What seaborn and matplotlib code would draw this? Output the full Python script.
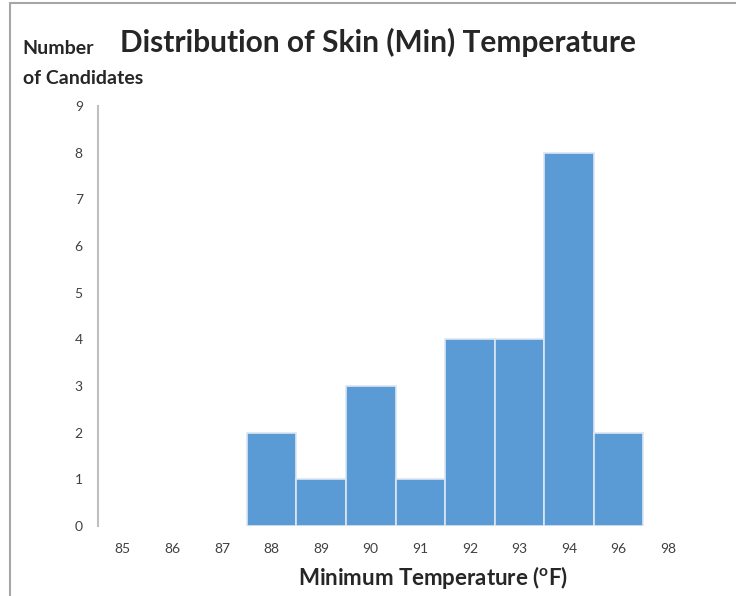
import seaborn as sns
import matplotlib.pyplot as plt
import pandas as pd

temps = ["85", "86", "87", "88", "89", "90", "91", "92", "93", "94", "96", "98"]
counts = [0, 0, 0, 2, 1, 3, 1, 4, 4, 8, 2, 0]
y_ticks = [0, 1, 2, 3, 4, 5, 6, 7, 8, 9]

df = pd.DataFrame({"Temp": temps, "Count": counts})

sns.set_style("white")
plt.rcParams['font.family'] = ['Lato', 'DejaVu Sans']

fig = plt.figure(figsize=(7.36, 5.96), dpi=100)
ax = fig.add_axes([0.1332, 0.1174, 0.8084, 0.7047])

sns.barplot(data=df, x="Temp", y="Count", order=temps, color="#5B9BD5",
            width=1.0, edgecolor="#DCE6F2", linewidth=1.2, saturation=1, ax=ax)

# empty bins should not leave an edge line on the baseline
for bar in ax.patches:
    if bar.get_height() == 0:
        bar.set_linewidth(0)

ax.set_xlim(-0.5, len(temps) - 0.5)
ax.set_ylim(0, 9)
ax.set_yticks(y_ticks)
ax.tick_params(axis="y", length=0, labelsize=10, labelcolor="#404040", pad=11)
ax.tick_params(axis="x", which="major", length=0, labelsize=10, labelcolor="#404040", pad=12)
ax.set_xticks([i - 0.5 for i in range(len(temps) + 1)], minor=True)
ax.tick_params(axis="x", which="minor", length=5, width=1, color="#BFBFBF", direction="out")

for side in ["top", "right", "bottom"]:
    ax.spines[side].set_visible(False)
ax.spines["left"].set_color("#BFBFBF")
ax.spines["left"].set_linewidth(1.5)

ax.set_xlabel("")
ax.set_ylabel("")

fig.text(0.588, 0.031, "Minimum Temperature ($^\\mathregular{o}$F)", ha="center",
         va="center", fontsize=16, fontweight="bold")
fig.text(0.514, 0.929, "Distribution of Skin (Min) Temperature", ha="center",
         va="center", fontsize=21.5, fontweight="bold")
fig.text(0.031, 0.919, "Number", ha="left", va="center", fontsize=14, fontweight="bold")
fig.text(0.031, 0.869, "of Candidates", ha="left", va="center", fontsize=14, fontweight="bold")

# frame around the chart
fig.add_artist(plt.Line2D([0.014, 0.014], [0, 0.995], color="#A6A6A6", lw=1.5))
fig.add_artist(plt.Line2D([0.014, 1.0], [0.995, 0.995], color="#A6A6A6", lw=1.5))

plt.savefig("out.png", dpi=100)
